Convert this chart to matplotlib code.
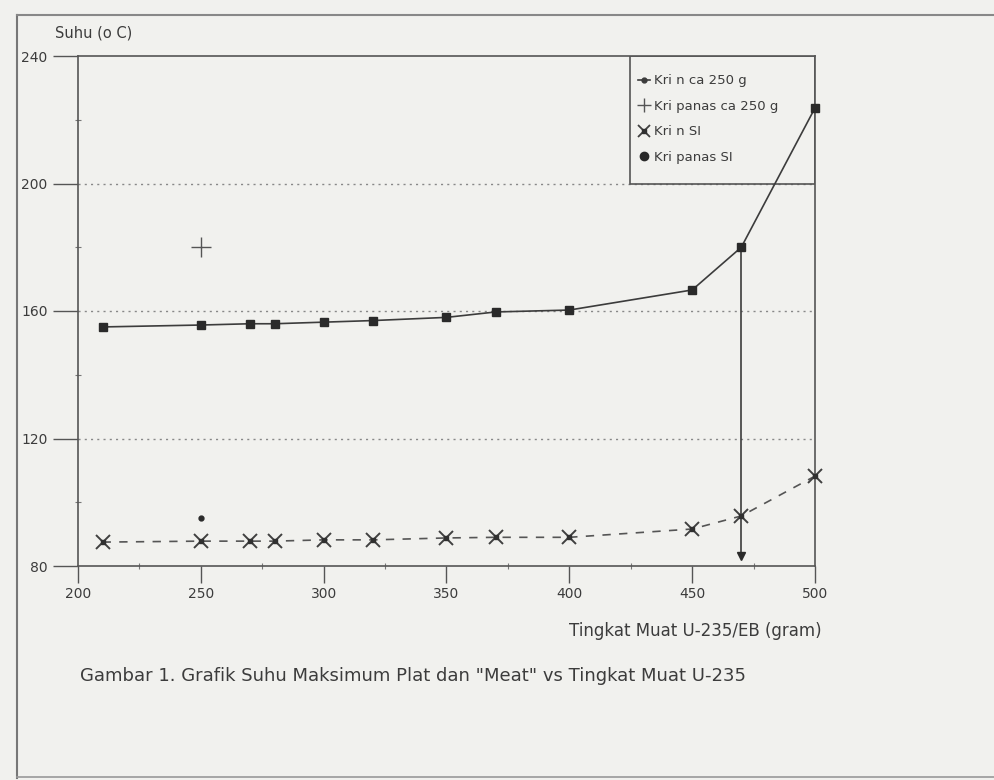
import matplotlib.pyplot as plt
from matplotlib.ticker import MultipleLocator
from matplotlib.patches import Rectangle

plt.rcParams['font.family'] = ['DejaVu Sans']

# data
muat = [210, 250, 270, 280, 300, 320, 350, 370, 400, 450, 470, 500]
kri_panas_si = [155, 155.6, 156, 156, 156.5, 157, 158, 159.7, 160.3, 166.6, 180, 223.7]
kri_n_si = [87.5, 87.8, 87.8, 87.8, 88.2, 88.2, 88.8, 89, 89, 91.6, 95.7, 108.2]
kri_n_ca_x = [250, 470]
kri_n_ca_y = [95, 83]
kri_panas_ca_x = [250]
kri_panas_ca_y = [180]

ink = '#3c3c3c'
paper = '#f1f1ee'

fig = plt.figure(figsize=(9.95, 7.8), dpi=100, facecolor=paper)
ax = fig.add_axes([78 / 995, 1 - 566 / 780, (815 - 78) / 995, (566 - 56) / 780])
ax.set_facecolor(paper)

# page border of the scanned document
fig.add_artist(plt.Line2D([17 / 995, 17 / 995], [0.003, 1 - 15 / 780], color='#777777', lw=1.5,
                          transform=fig.transFigure))
fig.add_artist(plt.Line2D([17 / 995, 1], [1 - 15 / 780, 1 - 15 / 780], color='#888888', lw=1.5,
                          transform=fig.transFigure))
fig.add_artist(plt.Line2D([17 / 995, 1], [0.004, 0.004], color='#999999', lw=1.2,
                          transform=fig.transFigure))

ax.set_xlim(200, 500)
ax.set_ylim(80, 240)
ax.xaxis.set_major_locator(MultipleLocator(50))
ax.xaxis.set_minor_locator(MultipleLocator(25))
ax.yaxis.set_major_locator(MultipleLocator(40))
ax.yaxis.set_minor_locator(MultipleLocator(20))
ax.tick_params(axis='x', which='major', direction='out', length=12, width=1, color='#555555',
               labelsize=10, labelcolor=ink, pad=3)
ax.tick_params(axis='y', which='major', direction='out', length=18, width=1, color='#555555',
               labelsize=10, labelcolor=ink, pad=4)
ax.tick_params(axis='both', which='minor', direction='inout', length=5, width=0.8, color='#777777')
for s in ax.spines.values():
    s.set_color('#555555')
    s.set_linewidth(1.2)

for g in [120, 160, 200]:
    ax.axhline(g, color='#888888', lw=1, ls=(0, (1.5, 3)), zorder=1)

ax.plot(muat, kri_panas_si, color=ink, lw=1.2, marker='s', ms=6, mfc='#2a2a2a', mec='#2a2a2a',
        zorder=5, clip_on=False)
ax.plot(muat, kri_n_si, color='#555555', lw=1.2, ls=(0, (5, 5)), zorder=5, clip_on=False)
ax.plot(muat, kri_n_si, ls='none', marker='x', ms=10, mew=1.4, color='#404040', zorder=6,
        clip_on=False)
ax.plot(muat, kri_n_si, ls='none', marker='s', ms=3.5, color='#303030', zorder=6, clip_on=False)
ax.vlines(kri_n_ca_x[1], kri_n_ca_y[1], kri_panas_si[10], color=ink, lw=1.2, zorder=4)
ax.plot(kri_n_ca_x[:1], kri_n_ca_y[:1], ls='none', marker='o', ms=3.5, color='#2a2a2a', zorder=6)
ax.plot(kri_n_ca_x[1:], kri_n_ca_y[1:], ls='none', marker='v', ms=6, color='#2a2a2a', zorder=6)
ax.plot(kri_panas_ca_x, kri_panas_ca_y, ls='none', marker='+', ms=14, mew=1, color='#555555',
        zorder=6)

# legend box drawn by hand, entries inside it
ax.add_patch(Rectangle((0.749, 0.749), 0.251, 0.251, transform=ax.transAxes, fill=False,
                       edgecolor='#555555', lw=1.2, zorder=2))
h1, = ax.plot([], [], color=ink, lw=1.2, marker='o', ms=3.5)
h2, = ax.plot([], [], ls='none', marker='+', ms=10, mew=1, color='#555555')
h3a, = ax.plot([], [], ls='none', marker='x', ms=8, mew=1.3, color='#404040')
h3b, = ax.plot([], [], ls='none', marker='s', ms=3, color='#303030')
h4, = ax.plot([], [], ls='none', marker='o', ms=6, color='#2a2a2a')
leg = ax.legend([h1, h2, (h3a, h3b), h4],
                ['Kri n ca 250 g', 'Kri panas ca 250 g', 'Kri n SI', 'Kri panas SI'],
                loc='upper left', bbox_to_anchor=(0.755, 0.972), fontsize=9.5, frameon=False,
                handlelength=0.9, handletextpad=0.3, labelspacing=0.95, borderpad=0.3,
                borderaxespad=0)
leg.set_zorder(3)
for t in leg.get_texts():
    t.set_color(ink)

fig.text(55 / 995, 1 - 33 / 780, 'Suhu (o C)', fontsize=10.5, color=ink, va='center')
fig.text(822 / 995, 1 - 631 / 780, 'Tingkat Muat U-235/EB (gram)', fontsize=12, color=ink,
         ha='right', va='center')
fig.text(80 / 995, 1 - 676 / 780,
         'Gambar 1. Grafik Suhu Maksimum Plat dan "Meat" vs Tingkat Muat U-235',
         fontsize=13, color=ink, va='center')

fig.savefig('out.png', dpi=100, facecolor=paper)
